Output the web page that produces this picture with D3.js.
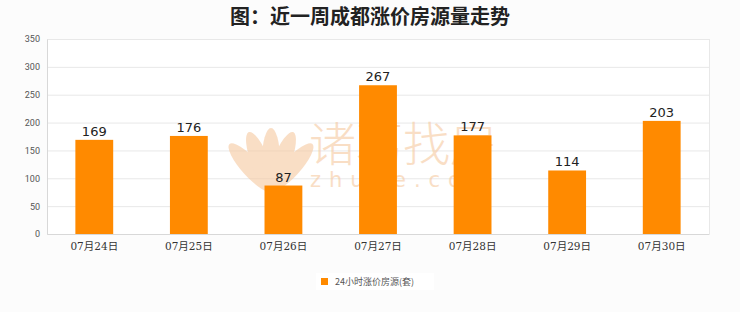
<!DOCTYPE html>
<html>
<head>
<meta charset="utf-8">
<script src="https://cdn.jsdelivr.net/npm/d3@7"></script>
<style>
  body { margin: 0; background: #fcfcfc; }
  svg { display: block; }
</style>
</head>
<body>
<div id="chart"></div>
<script>
// chart values
var days = ["07月24日", "07月25日", "07月26日", "07月27日", "07月28日", "07月29日", "07月30日"];
var counts = [169, 176, 87, 267, 177, 114, 203];
var yTicks = [0, 50, 100, 150, 200, 250, 300, 350];
var seriesName = "24小时涨价房源(套)";
var title = "图：近一周成都涨价房源量走势";

var width = 740, height = 312;
var margin = { top: 39, right: 31, bottom: 78, left: 47 };

var svg = d3.select("#chart")
  .append("svg")
  .attr("width", width)
  .attr("height", height);

svg.append("rect").attr("width", width).attr("height", height).attr("fill", "#fcfcfc");

// plot background
svg.append("rect")
  .attr("x", margin.left).attr("y", margin.top)
  .attr("width", width - margin.left - margin.right)
  .attr("height", height - margin.top - margin.bottom)
  .attr("fill", "#ffffff");

var x = d3.scaleBand()
  .domain(days)
  .range([margin.left, width - margin.right])
  .paddingInner(0.6)
  .paddingOuter(0.3);

var y = d3.scaleLinear()
  .domain([0, 350])
  .range([height - margin.bottom, margin.top]);

// grid
svg.append("g")
  .selectAll("line")
  .data(yTicks)
  .join("line")
  .attr("x1", margin.left)
  .attr("x2", width - margin.right)
  .attr("y1", d => y(d) + 0.5)
  .attr("y2", d => y(d) + 0.5)
  .attr("stroke", "#e8e8e8");

// right border
svg.append("line")
  .attr("x1", width - margin.right + 0.5).attr("x2", width - margin.right + 0.5)
  .attr("y1", margin.top).attr("y2", y(0))
  .attr("stroke", "#e8e8e8");

// watermark (lotus + site name)
var wm = svg.append("g").attr("opacity", 0.6);
var petals = [-42, -21, 0, 21, 42];
wm.selectAll("ellipse")
  .data(petals)
  .join("ellipse")
  .attr("cx", 0).attr("cy", -30)
  .attr("rx", 9).attr("ry", 32)
  .attr("transform", d => `translate(271,190) rotate(${d})`)
  .attr("fill", "#f6c9a0");
wm.append("text")
  .attr("x", 309).attr("y", 161)
  .attr("font-family", "'Noto Sans CJK SC'")
  .attr("font-weight", 300)
  .attr("font-size", 47)
  .attr("fill", "#f6c9a0")
  .text("诸葛找房");
wm.append("text")
  .attr("x", 310).attr("y", 187)
  .attr("font-family", "DejaVu Sans")
  .attr("font-size", 21)
  .attr("letter-spacing", 8)
  .attr("fill", "#f6c9a0")
  .text("zhuge.com");

// bars
svg.append("g")
  .selectAll("rect")
  .data(counts)
  .join("rect")
  .attr("x", (d, i) => x(days[i]))
  .attr("y", d => y(d))
  .attr("width", x.bandwidth())
  .attr("height", d => y(0) - y(d))
  .attr("fill", "#ff8a00");

// value labels
svg.append("g")
  .selectAll("text")
  .data(counts)
  .join("text")
  .attr("x", (d, i) => x(days[i]) + x.bandwidth() / 2)
  .attr("y", d => y(d) - 4)
  .attr("text-anchor", "middle")
  .attr("font-family", "DejaVu Sans")
  .attr("font-size", 13)
  .attr("fill", "#222")
  .text(d => d);

// y axis
var yAxis = svg.append("g")
  .attr("transform", `translate(${margin.left},0)`)
  .call(d3.axisLeft(y).tickValues(yTicks).tickSize(0).tickPadding(7));
yAxis.select(".domain").attr("stroke", "#d8d8d8");
yAxis.selectAll("text")
  .attr("font-family", "Roboto, sans-serif")
  .attr("font-size", 9)
  .attr("fill", "#555");

// x axis
var xAxis = svg.append("g")
  .attr("transform", `translate(0,${y(0)})`)
  .call(d3.axisBottom(x).tickSize(0).tickPadding(9));
xAxis.select(".domain").attr("stroke", "#d8d8d8");
xAxis.selectAll("text")
  .attr("font-family", "'DejaVu Serif', 'Noto Sans CJK SC', serif")
  .attr("font-size", 10.5)
  .attr("fill", "#333");

// title
svg.append("text")
  .attr("x", width / 2)
  .attr("y", 24)
  .attr("text-anchor", "middle")
  .attr("font-family", "'Noto Sans CJK SC', sans-serif")
  .attr("font-weight", "bold")
  .attr("font-size", 20)
  .attr("fill", "#222")
  .text(title);

// legend
var legend = svg.append("g").attr("transform", "translate(316,273)");
legend.append("rect")
  .attr("width", 118).attr("height", 17)
  .attr("fill", "#ffffff");
legend.append("rect")
  .attr("x", 5).attr("y", 5)
  .attr("width", 7).attr("height", 7)
  .attr("fill", "#ff8a00");
legend.append("text")
  .attr("x", 19).attr("y", 12)
  .attr("font-family", "'Noto Sans CJK SC', sans-serif")
  .attr("font-size", 9)
  .attr("fill", "#555")
  .text(seriesName);
</script>
</body>
</html>
